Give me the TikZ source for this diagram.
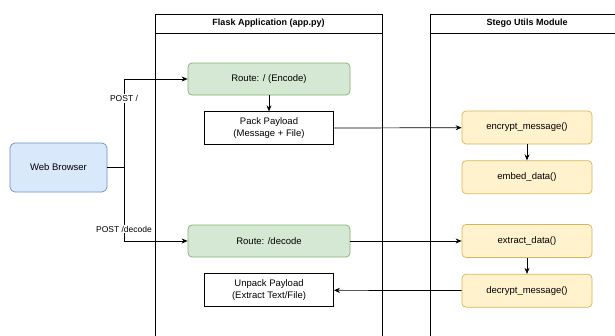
\documentclass[tikz,border=0pt]{standalone}
\usepackage{fontspec}
\setmainfont{Liberation Sans}
\usepackage{tikz}
\usetikzlibrary{arrows.meta,positioning}
\definecolor{webfill}{HTML}{DAE8FC}
\definecolor{webline}{HTML}{6C8EBF}
\definecolor{routefill}{HTML}{D5E8D4}
\definecolor{routeline}{HTML}{82B366}
\definecolor{utilfill}{HTML}{FFF2CC}
\definecolor{utilline}{HTML}{D6B656}

\begin{document}
\begin{tikzpicture}[x=1pt, y=-1pt, >={Stealth[length=6pt,width=5pt]},
  font=\fontsize{9.5}{11.5}\selectfont, line width=0.7pt,
  lane/.style={draw, line width=0.7pt},
  head/.style={font=\fontsize{9}{11}\selectfont\bfseries},
  browser/.style={draw=webline, fill=webfill, rounded corners=5pt, minimum width=97pt, minimum height=49pt},
  route/.style={draw=routeline, fill=routefill, rounded corners=4pt, minimum width=162pt, minimum height=32pt},
  util/.style={draw=utilline, fill=utilfill, rounded corners=4pt, minimum width=130pt, minimum height=33pt},
  plain/.style={draw, minimum width=129pt, minimum height=33pt, align=center, inner sep=1pt},
  lbl/.style={fill=white, inner sep=1pt, font=\fontsize{8.5}{10}\selectfont}]
  \clip (0,0) rectangle (615,335);
  % lanes
  \draw[lane] (155,14) rectangle (382,345);
  \draw[lane] (155,33) -- (382,33);
  \node[head] (flask) at (268.5,23.5) {Flask Application (app.py)};
  \draw[lane] (430,14) rectangle (625,345);
  \draw[lane] (430,33) -- (625,33);
  \node[head] (stego) at (527,23.5) {Stego Utils Module};

  % nodes
  \node[browser] (web) at (58.5,167.5) {Web Browser};
  \node[route] (enc) at (269,79) {Route: / (Encode)};
  \node[plain] (pack) [below=16pt of enc] {Pack Payload\\(Message + File)};
  \node[route] (dec) at (269,241) {Route: /decode};
  \node[plain] (unpack) [below=16pt of dec] {Unpack Payload\\(Extract Text/File)};
  \node[util] (encr) at (527,127.5) {encrypt\_message()};
  \node[util] (embed) [below=16pt of encr] {embed\_data()};
  \node[util] (extr) at (527,241) {extract\_data()};
  \node[util] (decr) [below=16pt of extr] {decrypt\_message()};

  % edges
  \coordinate (fork) at (124,167.5);
  \draw[->] (web.east) -- (fork) |- node[lbl, pos=0.39]{POST /} (enc.west);
  \draw[->] (web.east) -- (fork) |- node[lbl, pos=0.42]{POST /decode} (dec.west);
  \draw[->] (enc) -- (pack);
  \draw[->] (pack) -- (encr);
  \draw[->] (encr) -- (embed);
  \draw[->] (dec) -- (extr);
  \draw[->] (extr) -- (decr);
  \draw[->] (decr) -- (unpack);
\end{tikzpicture}
\end{document}
